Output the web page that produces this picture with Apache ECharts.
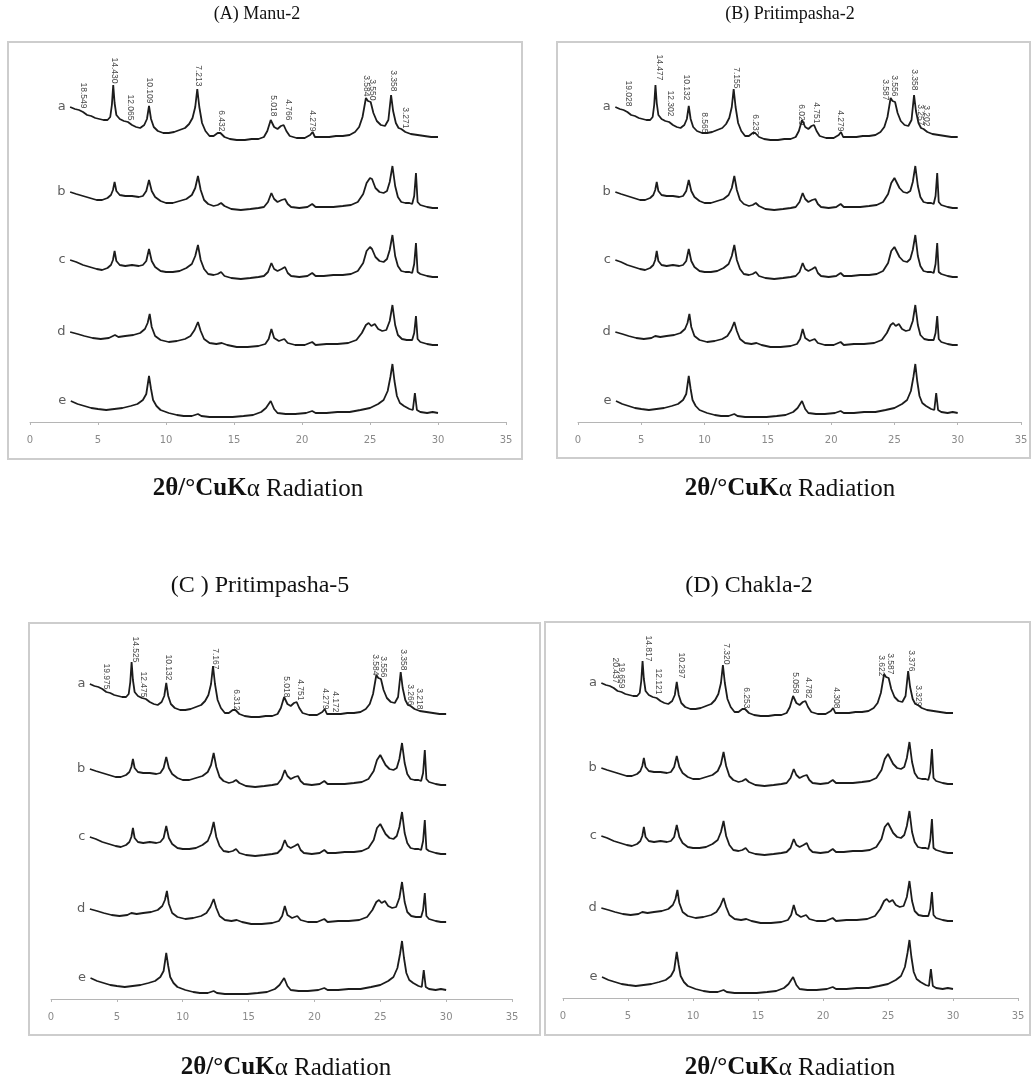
<!DOCTYPE html>
<html>
<head>
<meta charset="utf-8">
<script src="https://cdn.jsdelivr.net/npm/echarts@6/dist/echarts.min.js"></script>
<style>
  html, body { margin: 0; padding: 0; background: #fff; }
  #main { width: 1034px; height: 1085px; }
</style>
</head>
<body>
<div id="main"></div>
<script>
// 2θ (degrees) vs relative intensity above each trace's end baseline
var traceA = [[2.95,30],[3.3,28],[3.6,27],[3.9,25],[4.2,22],[4.5,21],[4.8,19],[5.1,18],[5.4,17],[5.7,17],[5.9,20],[6.02,32],[6.12,52],[6.22,34],[6.35,22],[6.6,18],[6.9,16],[7.2,15],[7.5,12],[7.8,10],[8.1,9],[8.4,12],[8.6,18],[8.75,31],[8.9,18],[9.1,10],[9.4,6],[9.8,4],[10.2,4],[10.6,5],[11.0,7],[11.4,9],[11.7,13],[11.95,19],[12.15,30],[12.3,48],[12.45,30],[12.65,14],[12.9,6],[13.2,1],[13.5,1],[13.8,4],[14.0,4],[14.3,0],[14.7,-2],[15.2,-3],[15.8,-3],[16.3,-2],[16.8,-2],[17.2,0],[17.45,6],[17.7,17],[17.95,10],[18.2,8],[18.45,11],[18.65,12],[18.85,6],[19.1,1],[19.6,-1],[20.2,-1],[20.6,2],[20.78,5],[20.95,0],[21.5,0],[22.0,0],[22.5,1],[23.0,1],[23.5,2],[23.9,5],[24.2,10],[24.45,20],[24.7,39],[24.85,36],[25.05,35],[25.25,24],[25.5,16],[25.8,12],[26.1,11],[26.35,17],[26.55,42],[26.7,26],[26.9,14],[27.1,9],[27.3,8],[27.6,5],[28.0,3],[28.5,2],[29.0,1],[29.5,0],[30.0,0]];
var traceB = [[2.95,16],[3.4,14],[3.9,12],[4.4,10],[4.9,8],[5.3,8],[5.7,10],[5.95,13],[6.1,18],[6.22,26],[6.35,17],[6.6,13],[7.0,12],[7.5,12],[8.0,11],[8.3,12],[8.55,17],[8.75,28],[8.95,17],[9.2,11],[9.6,7],[10.0,5],[10.5,5],[11.0,7],[11.5,9],[11.9,13],[12.15,20],[12.35,32],[12.55,18],[12.8,8],[13.1,4],[13.5,2],[13.8,3],[14.05,5],[14.3,2],[14.8,-1],[15.5,-2],[16.2,-1],[16.8,0],[17.2,1],[17.5,6],[17.75,15],[17.95,9],[18.2,6],[18.5,8],[18.75,9],[18.95,4],[19.2,1],[19.8,0],[20.4,1],[20.75,4],[21.0,1],[21.6,1],[22.3,1],[23.0,2],[23.6,3],[24.1,6],[24.5,14],[24.75,25],[25.0,30],[25.15,29],[25.4,20],[25.7,16],[26.0,15],[26.25,17],[26.45,26],[26.65,42],[26.85,22],[27.05,11],[27.3,6],[27.6,5],[27.9,5],[28.1,4],[28.25,12],[28.38,35],[28.5,6],[28.7,3],[29.2,1],[29.6,0],[30.0,0]];
var traceC = [[2.95,17],[3.4,15],[3.9,12],[4.4,10],[4.9,8],[5.3,7],[5.7,9],[5.95,12],[6.1,17],[6.22,26],[6.35,16],[6.6,12],[7.0,11],[7.5,12],[8.0,11],[8.3,12],[8.55,16],[8.75,28],[8.95,16],[9.2,10],[9.6,6],[10.0,5],[10.5,5],[11.0,6],[11.5,9],[11.9,13],[12.15,21],[12.35,32],[12.55,17],[12.8,8],[13.1,3],[13.5,2],[13.8,3],[14.05,5],[14.3,1],[14.8,-1],[15.5,-2],[16.2,-1],[16.8,0],[17.2,1],[17.5,5],[17.75,14],[17.95,8],[18.2,6],[18.5,8],[18.75,10],[18.95,4],[19.2,1],[19.8,0],[20.4,1],[20.75,4],[21.0,1],[21.6,1],[22.3,2],[23.0,2],[23.6,3],[24.1,6],[24.5,14],[24.75,26],[25.0,30],[25.15,28],[25.4,20],[25.7,16],[26.0,15],[26.25,18],[26.45,27],[26.65,42],[26.85,21],[27.05,11],[27.3,6],[27.6,5],[27.9,5],[28.1,4],[28.25,13],[28.38,34],[28.5,5],[28.7,3],[29.2,1],[29.6,0],[30.0,0]];
var traceD = [[2.95,13],[3.5,11],[4.0,9],[4.6,7],[5.2,6],[5.8,7],[6.1,9],[6.25,10],[6.5,8],[7.0,9],[7.6,10],[8.1,12],[8.45,16],[8.65,22],[8.8,31],[8.95,18],[9.2,9],[9.6,5],[10.2,3],[10.8,4],[11.4,6],[11.8,9],[12.1,15],[12.35,23],[12.55,14],[12.8,6],[13.2,2],[13.7,1],[14.1,2],[14.5,0],[15.2,-2],[16.0,-2],[16.8,-1],[17.3,1],[17.55,6],[17.75,16],[17.95,7],[18.3,4],[18.7,6],[18.95,2],[19.5,0],[20.2,0],[20.75,3],[21.0,0],[21.8,1],[22.6,1],[23.4,2],[24.0,5],[24.4,12],[24.7,20],[24.9,22],[25.1,19],[25.35,21],[25.6,16],[25.9,14],[26.2,15],[26.45,24],[26.65,40],[26.85,20],[27.05,10],[27.35,6],[27.7,5],[28.1,5],[28.25,12],[28.38,29],[28.5,6],[28.7,3],[29.2,1],[29.6,0],[30.0,0]];
var traceE = [[3.0,12],[3.5,9],[4.0,7],[4.5,5],[5.0,4],[5.6,3],[6.2,4],[6.8,5],[7.4,7],[7.9,9],[8.3,13],[8.55,19],[8.75,37],[8.9,24],[9.05,13],[9.3,7],[9.6,3],[10.2,0],[10.8,-2],[11.3,-3],[11.9,-3],[12.35,-1],[12.6,-3],[13.2,-4],[14.0,-4],[14.9,-4],[15.7,-3],[16.4,-2],[17.0,1],[17.35,5],[17.7,12],[17.95,4],[18.2,0],[18.8,-1],[19.5,-1],[20.3,0],[20.75,2],[21.0,0],[21.8,0],[22.6,1],[23.5,1],[24.3,3],[25.0,5],[25.6,9],[26.0,13],[26.3,22],[26.5,36],[26.65,49],[26.8,32],[26.98,17],[27.2,10],[27.5,7],[27.9,4],[28.15,3],[28.3,20],[28.45,3],[28.7,1],[29.2,0],[29.6,1],[30.0,0]];

var traceNames = ["a", "b", "c", "d", "e"];
var traceOffsets = [285, 214, 145, 77, 9];

// d-spacing labels over trace a: [2θ, height above a-baseline, text]
var peaksA = [[3.9,27,"18.549"],[6.18,52,"14.430"],[7.35,15,"12.065"],[8.75,32,"10.109"],[12.35,49,"7.213"],[14.04,4,"6.432"],[17.87,19,"5.018"],[18.97,15,"4.766"],[20.74,4,"4.279"],[24.7,39,"3.584"],[25.2,35,"3.550"],[26.7,44,"3.358"],[27.57,7,"3.271"]];
var peaksB = [[3.95,29,"19.028"],[6.4,55,"14.477"],[7.27,19,"12.302"],[8.58,35,"10.132"],[10.0,2,"8.565"],[12.48,47,"7.155"],[13.98,0,"6.232"],[17.67,10,"6.029"],[18.85,12,"4.751"],[20.75,4,"4.279"],[24.25,35,"3.587"],[25.0,39,"3.556"],[26.54,45,"3.358"],[27.07,10,"3.257"],[27.54,9,"3.202"]];
var peaksC = [[4.18,23,"19.975"],[6.38,50,"14.525"],[7.0,15,"12.475"],[8.9,32,"10.132"],[12.45,43,"7.167"],[14.1,2,"6.312"],[17.9,15,"5.018"],[18.9,12,"4.751"],[20.8,3,"4.279"],[21.56,0,"4.172"],[24.6,37,"3.584"],[25.2,35,"3.556"],[26.75,42,"3.358"],[27.26,7,"3.266"],[28.0,3,"3.218"]];
var peaksD = [[4.0,28,"20.437"],[4.46,23,"19.659"],[6.56,50,"14.817"],[7.33,17,"12.121"],[9.1,33,"10.297"],[12.6,47,"7.320"],[14.1,3,"6.253"],[17.85,18,"5.058"],[18.9,13,"4.782"],[21.05,3,"4.308"],[24.5,35,"3.622"],[25.15,37,"3.587"],[26.82,40,"3.376"],[27.33,5,"3.329"]];

var panelTitles = ["(A) Manu-2", "(B) Pritimpasha-2", "(C ) Pritimpasha-5", "(D) Chakla-2"];
var xTicks = { min: 0, max: 35, interval: 5 };

// layout in px for each panel
var panels = [
  { grid: { left: 30, top: 52, width: 476, height: 370 }, box: [8, 42, 514, 417], title: [257, 14, 18], xlab: [258, 489], peaks: peaksA },
  { grid: { left: 578, top: 52, width: 443, height: 370 }, box: [557, 42, 473, 416], title: [790, 14, 18], xlab: [790, 489], peaks: peaksB },
  { grid: { left: 51, top: 629, width: 461, height: 370 }, box: [29, 623, 511, 412], title: [260, 586, 24], xlab: [286, 1068], peaks: peaksC },
  { grid: { left: 563, top: 628, width: 455, height: 370 }, box: [545, 622, 485, 413], title: [749, 586, 24], xlab: [790, 1068], peaks: peaksD }
];

var traces = [traceA, traceB, traceC, traceD, traceE];

var chart = echarts.init(document.getElementById("main"));
var grids = [], xAxes = [], yAxes = [], series = [], graphics = [];

panels.forEach(function (p, i) {
  grids.push(p.grid);
  xAxes.push({
    type: "value", gridIndex: i, min: xTicks.min, max: xTicks.max, interval: xTicks.interval,
    axisLine: { lineStyle: { color: "#b5b5b5", width: 1 } },
    axisTick: { length: 3, lineStyle: { color: "#b5b5b5" } },
    splitLine: { show: false },
    axisLabel: { color: "#8a8a8a", fontSize: 10, fontFamily: "DejaVu Sans", margin: 13 }
  });
  yAxes.push({ type: "value", gridIndex: i, min: 0, max: 370, show: false });

  traces.forEach(function (tr, k) {
    var off = traceOffsets[k];
    series.push({
      type: "line", xAxisIndex: i, yAxisIndex: i,
      data: tr.map(function (pt) { return [pt[0], pt[1] + off]; }),
      showSymbol: false, symbol: "none", silent: true, animation: false,
      lineStyle: { color: "#1c1c1c", width: 1.8 }
    });
  });

  // sample letters at the start of each trace
  series.push({
    type: "scatter", xAxisIndex: i, yAxisIndex: i, symbolSize: 1, silent: true, animation: false,
    itemStyle: { color: "rgba(0,0,0,0)" },
    data: traces.map(function (tr, k) {
      return { value: [tr[0][0], tr[0][1] + traceOffsets[k]], name: traceNames[k] };
    }),
    label: { show: true, position: "left", distance: 4, formatter: "{b}",
      fontSize: 13, fontFamily: "DejaVu Sans", color: "#333" }
  });

  series.push({
    type: "scatter", xAxisIndex: i, yAxisIndex: i, symbolSize: 1, silent: true, animation: false,
    itemStyle: { color: "rgba(0,0,0,0)" },
    data: p.peaks.map(function (pk) { return { value: [pk[0], pk[1] + traceOffsets[0] + 1], name: pk[2] }; }),
    label: {
      show: true, position: "top", distance: 0, rotate: -90, align: "right", verticalAlign: "middle",
      formatter: "{b}", fontSize: 8.5, fontFamily: "Liberation Sans", color: "#111"
    }
  });

  graphics.push({
    type: "rect", shape: { x: p.box[0], y: p.box[1], width: p.box[2], height: p.box[3] },
    style: { fill: "none", stroke: "#cdcdcd", lineWidth: 2 }, silent: true
  });
  graphics.push({
    type: "text", x: p.title[0], y: p.title[1],
    style: { text: panelTitles[i], font: p.title[2] + "px 'Liberation Serif'", fill: "#111", align: "center", verticalAlign: "middle" }
  });
  graphics.push({
    type: "text", x: p.xlab[0], y: p.xlab[1],
    style: {
      text: "{b|2θ/°CuK}{n|α Radiation}", align: "center", verticalAlign: "middle",
      rich: {
        b: { fontFamily: "Liberation Serif", fontSize: 25, fontWeight: "bold", fill: "#111" },
        n: { fontFamily: "Liberation Serif", fontSize: 25, fill: "#111" }
      }
    }
  });
});

chart.setOption({
  animation: false,
  grid: grids,
  xAxis: xAxes,
  yAxis: yAxes,
  series: series,
  graphic: graphics
});
</script>
</body>
</html>
